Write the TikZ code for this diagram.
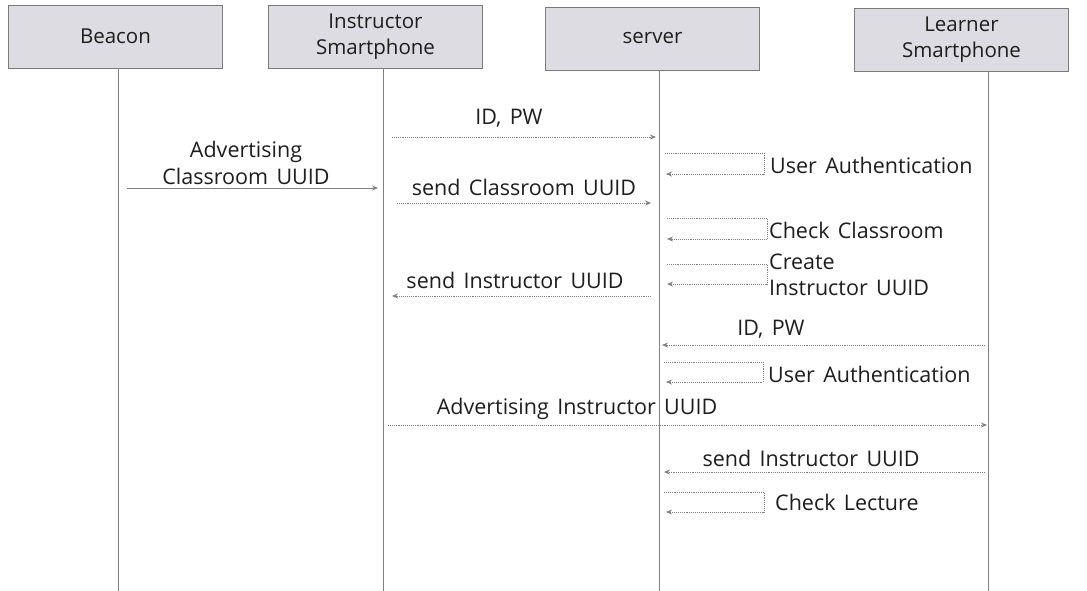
\documentclass[tikz,border=0pt]{standalone}
\usepackage{fontspec}
\setmainfont{Open Sans}[WordSpace=1.5]
\usetikzlibrary{arrows.meta}
\definecolor{boxfill}{HTML}{DCDCE2}
\definecolor{boxline}{HTML}{7A7A7A}
\definecolor{ln}{HTML}{808080}
\definecolor{txt}{HTML}{1E1E1E}
\tikzset{
  hbox/.style={draw=boxline, fill=boxfill, line width=0.9pt, minimum width=214pt, minimum height=63pt, align=center, text=txt, font=\fontsize{20.5}{26}\selectfont, inner sep=0pt},
  life/.style={draw=ln, line width=0.8pt},
  msg/.style={draw=ln, line width=0.9pt, densely dotted, -{Stealth[length=6pt,width=5pt]}},
  smsg/.style={draw=ln, line width=0.9pt, -{Stealth[length=6pt,width=5pt]}},
  lbl/.style={text=txt, font=\fontsize{21.5}{27}\selectfont, inner sep=0pt, align=center},
  rlbl/.style={text=txt, font=\fontsize{21.5}{26}\selectfont, inner sep=0pt, align=left, anchor=west}
}
\begin{document}
\begin{tikzpicture}[x=1pt,y=-1pt]
\useasboundingbox (0,0) rectangle (1087,591);
% headers
\node[hbox] (beacon) at (115.5,36.5) {Beacon};
\node[hbox] (instr) at (375.5,36.5) {Instructor\\Smartphone};
\node[hbox] (server) at (652.5,38.5) {server};
\node[hbox] (learner) at (961.5,39.5) {Learner\\Smartphone};
% lifelines
\coordinate (bT) at (118,68); \coordinate (bB) at (118,591);
\coordinate (iT) at (383,68); \coordinate (iB) at (383,591);
\coordinate (sT) at (659,70); \coordinate (sB) at (659,591);
\coordinate (lT) at (988,71); \coordinate (lB) at (988,591);
\draw[life] (bT) -- (bB);
\draw[life] (iT) -- (iB);
\draw[life] (sT) -- (sB);
\draw[life] (lT) -- (lB);
% ID, PW (instructor -> server)
\coordinate (m1a) at (392,137); \coordinate (m1b) at (656,137);
\draw[msg] (m1a) -- (m1b);
\node[lbl] (m1l) at (509,118) {ID, PW};
% Advertising Classroom UUID
\coordinate (m2a) at (127,188); \coordinate (m2b) at (378,188);
\draw[smsg] (m2a) -- (m2b);
\node[lbl] (m2l) at (246,163) {Advertising\\Classroom UUID};
% send Classroom UUID
\coordinate (m3a) at (397,203); \coordinate (m3b) at (651,203);
\draw[msg] (m3a) -- (m3b);
\node[lbl] (m3l) at (524,187) {send Classroom UUID};
% self: User Authentication
\coordinate (s1a) at (665,153); \coordinate (s1b) at (764,153);
\coordinate (s1c) at (764,174); \coordinate (s1d) at (666,174);
\draw[msg] (s1a) -- (s1b) -- (s1c) -- (s1d);
\node[rlbl] (s1l) at (770,165) {User Authentication};
% self: Check Classroom
\coordinate (s2a) at (667,218); \coordinate (s2b) at (767,218);
\coordinate (s2c) at (767,239); \coordinate (s2d) at (667,239);
\draw[msg] (s2a) -- (s2b) -- (s2c) -- (s2d);
\node[rlbl] (s2l) at (769,230) {Check Classroom};
% self: Create Instructor UUID
\coordinate (s3a) at (667,264); \coordinate (s3b) at (767,264);
\coordinate (s3c) at (767,284); \coordinate (s3d) at (667,284);
\draw[msg] (s3a) -- (s3b) -- (s3c) -- (s3d);
\node[rlbl] (s3l) at (769,275) {Create\\Instructor UUID};
% send Instructor UUID (server -> instructor)
\coordinate (m4a) at (651,296); \coordinate (m4b) at (392,296);
\draw[msg] (m4a) -- (m4b);
\node[lbl] (m4l) at (515,280) {send Instructor UUID};
% ID, PW (learner -> server)
\coordinate (m5a) at (985,345); \coordinate (m5b) at (662,345);
\draw[msg] (m5a) -- (m5b);
\node[lbl] (m5l) at (771,329) {ID, PW};
% self: User Authentication 2
\coordinate (s4a) at (664,362); \coordinate (s4b) at (763,362);
\coordinate (s4c) at (763,382); \coordinate (s4d) at (666,382);
\draw[msg] (s4a) -- (s4b) -- (s4c) -- (s4d);
\node[rlbl] (s4l) at (768,374) {User Authentication};
% Advertising Instructor UUID
\coordinate (m6a) at (388,425); \coordinate (m6b) at (987,425);
\draw[msg] (m6a) -- (m6b);
\node[lbl] (m6l) at (577,409) {Advertising Instructor UUID};
% send Instructor UUID (learner -> server)
\coordinate (m7a) at (985,472); \coordinate (m7b) at (664,472);
\draw[msg] (m7a) -- (m7b);
\node[lbl] (m7l) at (811,458) {send Instructor UUID};
% self: Check Lecture
\coordinate (s5a) at (664,492); \coordinate (s5b) at (764,492);
\coordinate (s5c) at (764,512); \coordinate (s5d) at (666,512);
\draw[msg] (s5a) -- (s5b) -- (s5c) -- (s5d);
\node[rlbl] (s5l) at (775,502) {Check Lecture};
\end{tikzpicture}
\end{document}
